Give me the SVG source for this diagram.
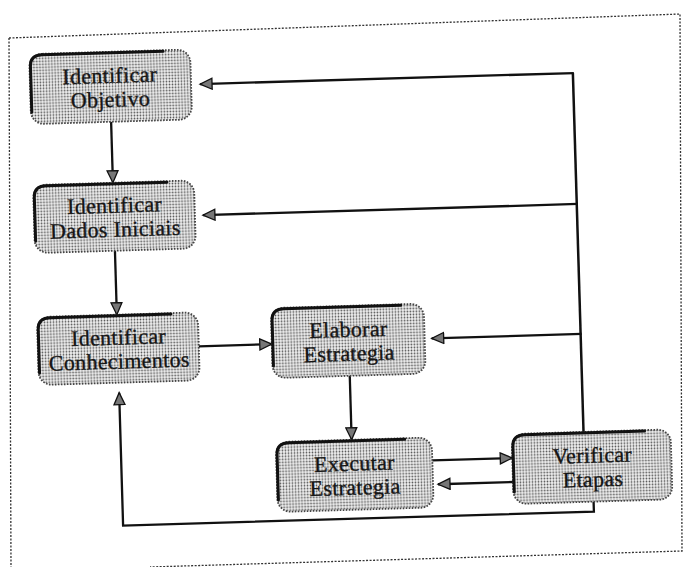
<svg xmlns="http://www.w3.org/2000/svg" width="684" height="567" viewBox="0 0 684 567">
  <style>
    .frame { fill: none; stroke: #333; stroke-width: 1.3; stroke-dasharray: 2 1.5; }
    .box { fill: url(#dots); stroke: #444; stroke-width: 1.8; stroke-dasharray: 1.6 1.4; }
    .edge { fill: none; stroke: #111; stroke-width: 3; stroke-linecap: round; }
    .label { font-family: "Liberation Serif", "Times New Roman", serif; font-size: 22px; fill: #151515; stroke: #151515; stroke-width: 0.35; text-anchor: middle; letter-spacing: 0.3px; }
    .link { fill: none; stroke: #111; stroke-width: 2.3; marker-end: url(#head); }
    .bus { fill: none; stroke: #111; stroke-width: 2.5; }
  </style>
  <defs>
    <pattern id="dots" width="3" height="3" patternUnits="userSpaceOnUse">
      <rect width="3" height="3" fill="#f2f2f2"/>
      <circle cx="1.5" cy="1.5" r="0.9" fill="#555"/>
    </pattern>
    <marker id="head" markerUnits="userSpaceOnUse" markerWidth="15" markerHeight="13" refX="13" refY="6.5" orient="auto">
      <path d="M1 1 L13 6.5 L1 12 Z" fill="#777" stroke="#111" stroke-width="1.3"/>
    </marker>
  </defs>

  <!-- dashed outer frame -->
  <path class="frame" d="M9 38 L680 14 L682 551 L150 567"/>
  <path class="frame" d="M9 38 L11 567"/>

  <g transform="rotate(-1.7 342 283)">
    <!-- connectors -->
    <g id="connectors">
      <path class="link" d="M116 115 V176"/>
      <path class="link" d="M116 244 V308"/>
      <path class="link" d="M197 342 H270"/>
      <path class="link" d="M347 376 V440"/>
      <path class="link" d="M427 463 H507"/>
      <path class="link" d="M507 487 H432"/>
      <path class="bus" d="M579 439 V80"/>
      <path class="link" d="M580 80 H206"/>
      <path class="link" d="M580 211 H205"/>
      <path class="link" d="M580 341 H430"/>
      <path class="link" d="M587 509 V519 H116 V386"/>
    </g>

    <g id="identificar-objetivo">
      <rect class="box" x="36" y="45" width="161" height="70" rx="13"/>
      <path class="edge" d="M37 103 V57 Q37 46 49 46 H170"/>
      <text class="label" x="116" y="76">Identificar</text>
      <text class="label" x="116" y="100">Objetivo</text>
    </g>

    <g id="identificar-dados">
      <rect class="box" x="36" y="176" width="161" height="68" rx="13"/>
      <path class="edge" d="M37 232 V188 Q37 177 49 177 H170"/>
      <text class="label" x="117" y="206">Identificar</text>
      <text class="label" x="117" y="230">Dados Iniciais</text>
    </g>

    <g id="identificar-conhecimentos">
      <rect class="box" x="36" y="308" width="161" height="68" rx="13"/>
      <path class="edge" d="M37 364 V320 Q37 309 49 309 H170"/>
      <text class="label" x="117" y="338">Identificar</text>
      <text class="label" x="117" y="362">Conhecimentos</text>
    </g>

    <g id="elaborar-estrategia">
      <rect class="box" x="270" y="306" width="153" height="70" rx="13"/>
      <path class="edge" d="M271 364 V318 Q271 307 283 307 H400"/>
      <text class="label" x="347" y="337">Elaborar</text>
      <text class="label" x="347" y="361">Estrategia</text>
    </g>

    <g id="executar-estrategia">
      <rect class="box" x="271" y="440" width="156" height="70" rx="13"/>
      <path class="edge" d="M272 498 V452 Q272 441 284 441 H400"/>
      <text class="label" x="349" y="471">Executar</text>
      <text class="label" x="349" y="495">Estrategia</text>
    </g>

    <g id="verificar-etapas">
      <rect class="box" x="507" y="439" width="159" height="70" rx="13"/>
      <path class="edge" d="M508 497 V451 Q508 440 520 440 H640"/>
      <text class="label" x="587" y="470">Verificar</text>
      <text class="label" x="587" y="494">Etapas</text>
    </g>
  </g>
</svg>
